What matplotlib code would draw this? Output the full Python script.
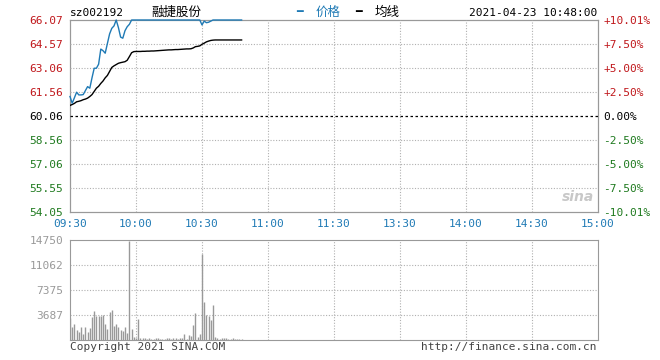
## Grafico intradia estilo sina - 融捷股份
import numpy as np
import matplotlib.pyplot as plt

# Datos (minutos desde las 09:30)
precio = [61.28, 60.86, 61.20, 61.55, 61.38, 61.38, 61.40, 61.65, 61.90, 61.80,
          62.45, 63.05, 63.05, 63.30, 64.25, 64.15, 63.99, 64.60, 65.20, 65.55,
          65.70, 66.07, 65.60, 65.00, 64.93, 65.40, 65.65, 65.80, 66.07, 66.07,
          66.07, 66.07, 66.07, 66.07, 66.07, 66.07, 66.07, 66.07, 66.07, 66.07,
          66.07, 66.07, 66.07, 66.07, 66.07, 66.07, 66.07, 66.07, 66.07, 66.07,
          66.07, 66.07, 66.07, 66.07, 66.07, 66.07, 66.07, 66.07, 66.07, 66.07,
          65.76, 66.00, 65.90, 65.93, 66.00, 66.07, 66.07, 66.07, 66.07, 66.07,
          66.07, 66.07, 66.07, 66.07, 66.07, 66.07, 66.07, 66.07, 66.07]
promedio = [60.72, 60.78, 60.85, 60.95, 60.98, 61.02, 61.08, 61.12, 61.18, 61.28,
            61.40, 61.60, 61.80, 61.92, 62.10, 62.25, 62.45, 62.60, 62.85, 63.10,
            63.20, 63.28, 63.36, 63.40, 63.43, 63.46, 63.55, 63.78, 64.02, 64.09,
            64.10, 64.10, 64.10, 64.11, 64.11, 64.12, 64.12, 64.13, 64.13, 64.14,
            64.15, 64.16, 64.17, 64.18, 64.19, 64.20, 64.20, 64.21, 64.22, 64.22,
            64.23, 64.24, 64.25, 64.26, 64.26, 64.27, 64.32, 64.40, 64.42, 64.45,
            64.55, 64.62, 64.70, 64.75, 64.79, 64.81, 64.82, 64.82, 64.82, 64.82,
            64.82, 64.82, 64.82, 64.82, 64.82, 64.82, 64.82, 64.82, 64.82]
volumen = [3305, 1973, 2368, 1480, 1233, 1973, 888, 1973, 1233, 1727,
           3453, 4292, 3552, 3552, 3552, 3700, 2368, 1579, 4193, 4440,
           2072, 2368, 1973, 1480, 1381, 1973, 987, 14650, 1628, 493,
           345, 3157, 345, 300, 250, 150, 300, 150, 200, 300,
           250, 200, 150, 150, 250, 250, 150, 250, 350, 200,
           350, 250, 888, 100, 690, 592, 2220, 4045, 493, 888,
           12727, 5673, 3700, 3552, 2960, 5180, 493, 247, 197, 250,
           300, 247, 200, 200, 250, 200, 200, 200, 200]
minutos = np.arange(len(precio))

precio_ticks = [54.05, 55.55, 57.06, 58.56, 60.06, 61.56, 63.06, 64.57, 66.07]
pct_labels = ["-10.01%", "-7.50%", "-5.00%", "-2.50%", "0.00%",
              "+2.50%", "+5.00%", "+7.50%", "+10.01%"]
hora_labels = ["09:30", "10:00", "10:30", "11:00", "11:30",
               "13:30", "14:00", "14:30", "15:00"]
vol_ticks = [3687, 7375, 11062, 14750]
## ---------------------------------------

rojo = "#c0181c"; verde = "#1f7a1f"; azul = "#1f7ab5"; gris = "#999999"
mono = "DejaVu Sans Mono"
cjk = ["Noto Sans CJK SC", "DejaVu Sans"]

fig = plt.figure(figsize=(6.6, 3.6), dpi=100)
ax = fig.add_axes([70/660, 1-212/360, 528/660, 192/360])
axv = fig.add_axes([70/660, 1-340/360, 528/660, 100/360])

# Eje derecho de porcentajes (atras)
ax2 = ax.twinx()
ax2.set_ylim(54.05, 66.07)
ax2.set_yticks(precio_ticks)
ax2.set_yticklabels(pct_labels, fontfamily=mono, fontsize=8)
for lbl, p in zip(ax2.get_yticklabels(), precio_ticks):
    lbl.set_color(rojo if p > 60.07 else ("k" if p > 60.05 else verde))
ax2.tick_params(length=0, pad=4)
for s in ax2.spines.values():
    s.set_color(gris)
ax.set_zorder(ax2.get_zorder() + 1)
ax.patch.set_visible(False)

# Panel de precio
ax.plot(minutos, promedio, c="k", lw=1, zorder=3)
ax.plot(minutos, precio, c=azul, lw=1, zorder=5, clip_on=False)
ax.set_xlim(0, 240)
ax.set_ylim(54.05, 66.07)
ax.set_yticks(precio_ticks)
ax.set_yticklabels([f"{p:.2f}" for p in precio_ticks], fontfamily=mono, fontsize=8)
for lbl, p in zip(ax.get_yticklabels(), precio_ticks):
    lbl.set_color(rojo if p > 60.07 else ("k" if p > 60.05 else verde))
ax.set_xticks(np.arange(0, 241, 30))
ax.set_xticklabels(hora_labels, fontfamily=mono, fontsize=8, color=azul)
ax.tick_params(length=0, pad=5)
for p in precio_ticks[1:-1]:
    if abs(p - 60.06) < 0.01:
        ax.axhline(p, c="k", lw=0.9, ls=(0, (2, 2)), zorder=2)
    else:
        ax.axhline(p, c="#b0b0b0", lw=0.8, ls=(0, (1, 1.5)), zorder=1)
for x in range(30, 240, 30):
    ax.axvline(x, c="#b0b0b0", lw=0.8, ls=(0, (1, 1.5)), zorder=1)
for s in ax.spines.values():
    s.set_color(gris)
    s.set_zorder(0.5)

# Panel de volumen
axv.vlines(minutos, 0, volumen, colors=gris, lw=1)
axv.set_xlim(0, 240)
axv.set_ylim(0, 14750)
axv.set_yticks(vol_ticks)
axv.set_yticklabels([str(v) for v in vol_ticks], fontfamily=mono, fontsize=8, color=gris)
axv.set_xticks([])
axv.tick_params(length=0, pad=5)
for v in vol_ticks[:-1]:
    axv.axhline(v, c="#b0b0b0", lw=0.8, ls=(0, (1, 1.5)), zorder=0)
for x in range(30, 240, 30):
    axv.axvline(x, c="#b0b0b0", lw=0.8, ls=(0, (1, 1.5)), zorder=0)
for s in axv.spines.values():
    s.set_color(gris)

# Textos de cabecera
fig.text(70/660, 1-13/360, "sz002192", fontfamily=mono, fontsize=8, va="center")
fig.text(176/660, 1-12/360, "融捷股份", family=cjk, fontsize=9, va="center", ha="center")
fig.text(296/660, 1-12/360, "━", color=azul, fontsize=8, va="center", fontweight="bold")
fig.text(316/660, 1-12/360, "价格", family=cjk, color=azul, fontsize=9, va="center")
fig.text(355/660, 1-12/360, "━", color="k", fontsize=8, va="center", fontweight="bold")
fig.text(375/660, 1-12/360, "均线", family=cjk, color="k", fontsize=9, va="center")
fig.text(597/660, 1-13/360, "2021-04-23 10:48:00", fontfamily=mono, fontsize=8,
         va="center", ha="right")
fig.text(70/660, 1-347/360, "Copyright 2021 SINA.COM", fontfamily=mono, fontsize=8,
         va="center", color="#444444")
fig.text(597/660, 1-347/360, "http://finance.sina.com.cn", fontfamily=mono, fontsize=8,
         va="center", ha="right", color="#444444")
fig.text(578/660, 1-197/360, "sina", fontsize=10, fontweight="bold", fontstyle="italic",
         color="#c8c8c8", va="center", ha="center")

fig.savefig("out.png", dpi=100)
